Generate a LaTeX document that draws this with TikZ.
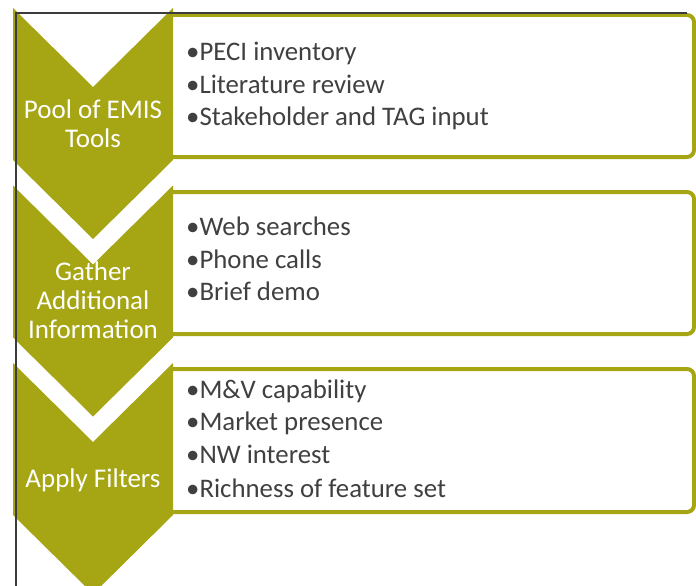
\documentclass[tikz,border=0pt]{standalone}
\usepackage{fontspec}
\setmainfont{Carlito}
\definecolor{olive}{RGB}{166,165,20}
\definecolor{txtgray}{RGB}{64,64,64}
\definecolor{framegray}{RGB}{60,60,60}
\tikzset{
  chevron/.style={fill=olive, draw=none},
  listbox/.style={draw=olive, line width=4pt, rounded corners=7pt},
  chevlabel/.style={text=white, font=\fontsize{27}{29}\selectfont, inner sep=0pt, anchor=base},
  itemtext/.style={text=txtgray, font=\fontsize{26.8}{32}\selectfont, inner sep=0pt, anchor=base west},
  framerule/.style={draw=framegray, line width=2pt}
}
\begin{document}
\begin{tikzpicture}[x=1pt,y=-1pt]
\useasboundingbox (0,0) rectangle (696,586);
\begin{scope}
\clip (0,0) rectangle (696,586);
% boxes (left side hidden behind chevrons)
\draw[listbox] (171,15) -- (694,15) -- (694,157) -- (171,157);
\draw[listbox] (171,192) -- (694,192) -- (694,334) -- (171,334);
\draw[listbox] (171,369) -- (694,369) -- (694,512) -- (171,512);
% chevrons
\fill[chevron] (13,8) -- (93,87) -- (173,8) -- (173,160) -- (93,239) -- (13,160) -- cycle;
\fill[chevron] (13,185.5) -- (93,264.5) -- (173,185.5) -- (173,337.5) -- (93,416.5) -- (13,337.5) -- cycle;
\fill[chevron] (13,363) -- (93,442) -- (173,363) -- (173,515) -- (93,594) -- (13,515) -- cycle;
\end{scope}
% chevron labels
\node[chevlabel] (c1a) at (93,118) {Pool of EMIS};
\node[chevlabel] (c1b) at (93,147) {Tools};
\node[chevlabel] (c2a) at (93,280) {Gather};
\node[chevlabel] (c2b) at (93,309) {Additional};
\node[chevlabel] (c2c) at (93,338) {Information};
\node[chevlabel] (c3a) at (93,487) {Apply Filters};
% items
\node[itemtext] (i11) at (186,60) {•PECI inventory};
\node[itemtext] (i12) at (186,93) {•Literature review};
\node[itemtext] (i13) at (186,125) {•Stakeholder and TAG input};
\node[itemtext] (i21) at (186,235) {•Web searches};
\node[itemtext] (i22) at (186,268) {•Phone calls};
\node[itemtext] (i23) at (186,300) {•Brief demo};
\node[itemtext] (i31) at (186,398) {•M\&V capability};
\node[itemtext] (i32) at (186,430) {•Market presence};
\node[itemtext] (i33) at (186,463) {•NW interest};
\node[itemtext] (i34) at (186,497) {•Richness of feature set};
% frame lines
\draw[framerule] (16,586) -- (16,13.5) -- (687,13.5);
\end{tikzpicture}
\end{document}
